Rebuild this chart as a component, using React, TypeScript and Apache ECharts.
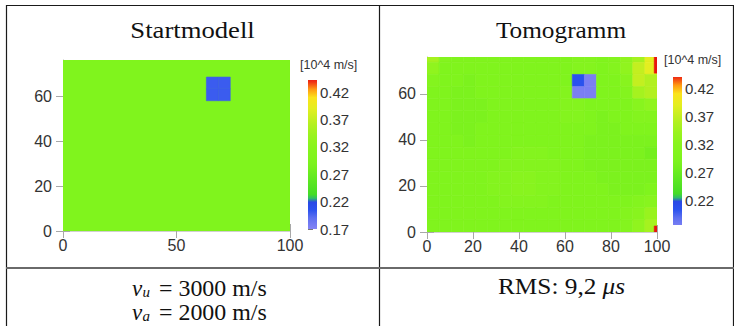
import React, { useEffect, useRef } from 'react';
import * as echarts from 'echarts';

// ---------- data ----------
const xRange = [0, 100];
const yRange = [0, 76];
const nCols = 19;
const cellSize = 100 / nCols;

const startXTicks = [0, 50, 100];
const tomoXTicks = [0, 20, 40, 60, 80, 100];
const yTicks = [0, 20, 40, 60];

// Startmodell: homogeneous background + one slow anomaly (cell indices)
const startBackground = 0.3; // 3000 m/s
const startAnomalyCols = [12, 13];
const startAnomalyRows = [11, 12];
const startAnomalyValue = 0.2; // 2000 m/s

// Tomogramm: cell values [10^4 m/s], top row first (row 14 .. row 0), 19 columns
const tomoRowsTopDown = [
  [0.35, 0.31, 0.30, 0.30, 0.30, 0.30, 0.30, 0.30, 0.30, 0.30, 0.30, 0.30, 0.31, 0.31, 0.30, 0.31, 0.33, 0.35, 0.39],
  [0.33, 0.30, 0.30, 0.30, 0.30, 0.30, 0.30, 0.30, 0.30, 0.30, 0.30, 0.30, 0.31, 0.31, 0.30, 0.31, 0.33, 0.37, 0.39],
  [0.31, 0.30, 0.30, 0.29, 0.30, 0.30, 0.30, 0.30, 0.30, 0.30, 0.30, 0.30, 0.205, 0.175, 0.30, 0.30, 0.32, 0.37, 0.36],
  [0.30, 0.30, 0.29, 0.29, 0.30, 0.30, 0.30, 0.30, 0.30, 0.30, 0.30, 0.31, 0.175, 0.175, 0.30, 0.30, 0.31, 0.35, 0.36],
  [0.30, 0.30, 0.29, 0.29, 0.29, 0.30, 0.30, 0.30, 0.30, 0.30, 0.30, 0.31, 0.31, 0.30, 0.30, 0.30, 0.30, 0.32, 0.33],
  [0.30, 0.30, 0.29, 0.29, 0.29, 0.30, 0.30, 0.30, 0.30, 0.30, 0.30, 0.31, 0.31, 0.30, 0.29, 0.30, 0.30, 0.31, 0.31],
  [0.30, 0.30, 0.29, 0.29, 0.30, 0.30, 0.30, 0.30, 0.30, 0.30, 0.30, 0.30, 0.30, 0.30, 0.29, 0.29, 0.30, 0.30, 0.30],
  [0.30, 0.30, 0.30, 0.29, 0.30, 0.30, 0.30, 0.30, 0.30, 0.30, 0.30, 0.30, 0.30, 0.29, 0.29, 0.29, 0.29, 0.29, 0.29],
  [0.30, 0.30, 0.30, 0.30, 0.30, 0.30, 0.30, 0.31, 0.31, 0.31, 0.30, 0.30, 0.30, 0.29, 0.29, 0.29, 0.29, 0.29, 0.28],
  [0.30, 0.30, 0.30, 0.30, 0.30, 0.30, 0.31, 0.31, 0.31, 0.31, 0.31, 0.30, 0.30, 0.29, 0.29, 0.29, 0.29, 0.29, 0.29],
  [0.30, 0.30, 0.30, 0.30, 0.30, 0.31, 0.31, 0.32, 0.32, 0.31, 0.31, 0.30, 0.30, 0.30, 0.29, 0.29, 0.29, 0.29, 0.29],
  [0.30, 0.30, 0.30, 0.30, 0.30, 0.31, 0.31, 0.32, 0.32, 0.31, 0.31, 0.30, 0.30, 0.30, 0.30, 0.29, 0.29, 0.29, 0.30],
  [0.30, 0.30, 0.30, 0.30, 0.30, 0.30, 0.31, 0.31, 0.31, 0.31, 0.30, 0.30, 0.30, 0.30, 0.30, 0.30, 0.30, 0.31, 0.32],
  [0.30, 0.30, 0.30, 0.30, 0.30, 0.30, 0.30, 0.30, 0.30, 0.30, 0.30, 0.30, 0.30, 0.30, 0.30, 0.30, 0.31, 0.32, 0.34],
  [0.30, 0.30, 0.30, 0.30, 0.30, 0.30, 0.30, 0.30, 0.30, 0.30, 0.30, 0.30, 0.30, 0.30, 0.30, 0.30, 0.31, 0.33, 0.35],
];
// thin high-velocity strips along the right model edge [x0, x1, y0, y1, v]
const tomoEdgeStrips = [
  [98.8, 100, 69, 76, 0.445],
  [98.8, 100, 0, 2.6, 0.445],
];

// colour scale [10^4 m/s]
const cmapStops: [number, string][] = [
  [0.17, '#8484f4'],
  [0.19, '#5e70f0'],
  [0.205, '#2a52ee'],
  [0.219, '#2848e6'],
  [0.226, '#2fbd6a'],
  [0.233, '#44dc26'],
  [0.27, '#68ec20'],
  [0.28, '#74ef1e'],
  [0.29, '#7cf21e'],
  [0.3, '#80f41d'],
  [0.32, '#88f41e'],
  [0.34, '#98f31e'],
  [0.36, '#b2f020'],
  [0.39, '#e4ee20'],
  [0.41, '#fbe31c'],
  [0.425, '#ff9a12'],
  [0.438, '#f03414'],
  [0.445, '#e81410'],
];
const cbLeftRange = [0.17, 0.442];
const cbRightRange = [0.1775, 0.4395];
const cbLeftTicks = [0.17, 0.22, 0.27, 0.32, 0.37, 0.42];
const cbRightTicks = [0.22, 0.27, 0.32, 0.37, 0.42];

// ---------- helpers ----------
function hexToRgb(h: string) {
  const n = parseInt(h.slice(1), 16);
  return [(n >> 16) & 255, (n >> 8) & 255, n & 255];
}
function colorFor(v: number) {
  if (v <= cmapStops[0][0]) return cmapStops[0][1];
  for (let i = 1; i < cmapStops.length; i++) {
    const [v1, c1] = cmapStops[i];
    if (v <= v1) {
      const [v0, c0] = cmapStops[i - 1];
      const t = (v - v0) / (v1 - v0);
      const a = hexToRgb(c0);
      const b = hexToRgb(c1);
      const r = a.map((x, k) => Math.round(x + (b[k] - x) * t));
      return `rgb(${r[0]},${r[1]},${r[2]})`;
    }
  }
  return cmapStops[cmapStops.length - 1][1];
}

function buildStartCells() {
  const cells: number[][] = [[xRange[0], xRange[1], yRange[0], yRange[1], startBackground]];
  startAnomalyCols.forEach((c) =>
    startAnomalyRows.forEach((r) => {
      cells.push([c * cellSize, (c + 1) * cellSize, r * cellSize, (r + 1) * cellSize, startAnomalyValue]);
    })
  );
  return cells;
}
function buildTomoCells() {
  const cells: number[][] = [];
  const nRows = tomoRowsTopDown.length;
  tomoRowsTopDown.forEach((row, i) => {
    const r = nRows - 1 - i;
    row.forEach((v, c) => {
      cells.push([c * cellSize, (c + 1) * cellSize, r * cellSize, (r + 1) * cellSize, v]);
    });
  });
  tomoEdgeStrips.forEach((s) => cells.push(s));
  return cells;
}

const cellRender = (params: any, api: any) => {
  const x0 = api.value(0), x1 = api.value(1), y0 = api.value(2), y1 = api.value(3), v = api.value(4);
  const p0 = api.coord([x0, y1]);
  const p1 = api.coord([x1, y0]);
  const rect = echarts.graphic.clipRectByRect(
    { x: p0[0], y: p0[1], width: p1[0] - p0[0], height: p1[1] - p0[1] },
    params.coordSys
  );
  if (!rect) return null;
  const col = colorFor(v);
  return { type: 'rect', shape: rect, style: { fill: col, stroke: col, lineWidth: 0.6 } };
};

const makeBarRender = (range: number[]) => (params: any, api: any) => {
  const p0 = api.coord([0, range[1]]);
  const p1 = api.coord([1, range[0]]);
  const stops: { offset: number; color: string }[] = [{ offset: 0, color: colorFor(range[1]) }];
  cmapStops
    .filter(([v]) => v > range[0] && v < range[1])
    .slice()
    .reverse()
    .forEach(([v, c]) => stops.push({ offset: (range[1] - v) / (range[1] - range[0]), color: c }));
  stops.push({ offset: 1, color: colorFor(range[0]) });
  return {
    type: 'rect',
    shape: { x: p0[0], y: p0[1], width: p1[0] - p0[0], height: p1[1] - p0[1] },
    style: { fill: new echarts.graphic.LinearGradient(0, 0, 0, 1, stops) },
  };
};

const tickColor = '#a8a8a8';
const labelFont = { fontFamily: 'Liberation Sans, Arial, sans-serif', fontSize: 16, color: '#333' };

function mainX(gridIndex: number, ticks: number[], pos: 'bottom' | 'top') {
  return {
    type: 'value', gridIndex, position: pos, min: xRange[0], max: xRange[1],
    axisLine: { show: true, lineStyle: { color: '#d0d0d0', width: 1 } },
    axisTick: { show: true, length: 7, customValues: ticks, lineStyle: { color: tickColor } },
    axisLabel: { show: pos === 'bottom', customValues: ticks, margin: 6, ...labelFont },
    splitLine: { show: false },
  };
}
function mainY(gridIndex: number, pos: 'left' | 'right') {
  return {
    type: 'value', gridIndex, position: pos, min: yRange[0], max: yRange[1],
    axisLine: { show: true, lineStyle: { color: '#d0d0d0', width: 1 } },
    axisTick: { show: true, length: 7, customValues: yTicks, lineStyle: { color: tickColor } },
    axisLabel: { show: pos === 'left', customValues: yTicks, margin: 11, ...labelFont },
    splitLine: { show: false },
  };
}
function barY(gridIndex: number, range: number[], ticks: number[]) {
  return {
    type: 'value', gridIndex, position: 'right', min: range[0], max: range[1],
    axisLine: { show: false },
    axisTick: { show: true, length: 5, customValues: ticks, lineStyle: { color: '#777' } },
    axisLabel: {
      show: true, customValues: ticks, margin: 3,
      formatter: (v: number) => v.toFixed(2),
      fontFamily: 'Liberation Sans, Arial, sans-serif', fontSize: 15, color: '#333',
    },
    splitLine: { show: false },
  };
}
function barX(gridIndex: number) {
  return { type: 'value', gridIndex, min: 0, max: 1, show: false };
}

const serif = 'Liberation Serif, Times New Roman, serif';
const ink = '#111';

export default function App() {
  const ref = useRef<HTMLDivElement>(null);
  useEffect(() => {
    if (!ref.current) return;
    const chart = echarts.init(ref.current, undefined, { renderer: 'svg' });
    const txt = (text: string, x: number, y: number, extra: any = {}, el: any = {}) => ({
      type: 'text', x, y, ...el,
      style: { text, x: 0, y: 0, fontFamily: serif, fontSize: 23, fill: ink, align: 'left', verticalAlign: 'middle', ...extra },
    });
    const line = (x1: number, y1: number, x2: number, y2: number, stroke = '#1a1a1a', lineWidth = 1.2) => ({
      type: 'line', shape: { x1, y1, x2, y2 }, style: { stroke, lineWidth },
    });
    const leftCx = 192.5;
    const rightCx = 561;
    const mathLine = (y: number, sub: string, rest: string) => {
      const x0 = 132;
      return [
        txt('v', x0, y, { fontStyle: 'italic' }),
        txt(sub, x0 + 10.5, y + 4, { fontStyle: 'italic', fontSize: 15 }),
        txt(rest, x0 + 27, y, {}, { scaleX: 1.04 }),
      ];
    };
    chart.setOption({
      animation: false,
      grid: [
        { left: 63, top: 60, width: 227, height: 171 },
        { left: 427, top: 57, width: 230, height: 175 },
        { left: 308, top: 80, width: 9, height: 149 },
        { left: 673, top: 77, width: 9, height: 148 },
      ],
      xAxis: [
        mainX(0, startXTicks, 'bottom'),
        mainX(0, startXTicks, 'top'),
        mainX(1, tomoXTicks, 'bottom'),
        mainX(1, tomoXTicks, 'top'),
        barX(2),
        barX(3),
      ],
      yAxis: [
        mainY(0, 'left'),
        mainY(0, 'right'),
        mainY(1, 'left'),
        mainY(1, 'right'),
        barY(2, cbLeftRange, cbLeftTicks),
        barY(3, cbRightRange, cbRightTicks),
      ],
      series: [
        { type: 'custom', xAxisIndex: 0, yAxisIndex: 0, data: buildStartCells(), renderItem: cellRender, clip: true, silent: true, encode: { x: [0, 1], y: [2, 3] } },
        { type: 'custom', xAxisIndex: 2, yAxisIndex: 2, data: buildTomoCells(), renderItem: cellRender, clip: true, silent: true, encode: { x: [0, 1], y: [2, 3] } },
        { type: 'custom', xAxisIndex: 4, yAxisIndex: 4, data: [[0, 1, cbLeftRange[0], cbLeftRange[1]]], renderItem: makeBarRender(cbLeftRange), silent: true, encode: { x: [0, 1], y: [2, 3] } },
        { type: 'custom', xAxisIndex: 5, yAxisIndex: 5, data: [[0, 1, cbRightRange[0], cbRightRange[1]]], renderItem: makeBarRender(cbRightRange), silent: true, encode: { x: [0, 1], y: [2, 3] } },
      ],
      graphic: [
        // table rules
        line(6, 5.5, 734, 5.5),
        line(6.5, 5, 6.5, 326),
        line(379.5, 5, 379.5, 326),
        line(733.5, 5, 733.5, 326),
        line(6, 268, 734, 268, '#6a6a6a', 2),
        // titles
        txt('Startmodell', leftCx, 30, { align: 'center' }, { scaleX: 1.16 }),
        txt('Tomogramm', rightCx, 30, { align: 'center' }, { scaleX: 1.1 }),
        // units
        txt('[10^4 m/s]', 300, 65, { fontFamily: 'Liberation Sans, Arial, sans-serif', fontSize: 12.5, fill: '#333' }),
        txt('[10^4 m/s]', 664, 60, { fontFamily: 'Liberation Sans, Arial, sans-serif', fontSize: 12.5, fill: '#333' }),
        // bottom cells
        ...mathLine(288, 'u', '= 3000 m/s'),
        ...mathLine(312, 'a', '= 2000 m/s'),
        txt('RMS: 9,2 ', 498, 285.5, {}, { scaleX: 1.1 }),
        txt('μs', 498 + 95 * 1.1, 285.5, { fontStyle: 'italic' }, { scaleX: 1.1 }),
      ],
    });
    return () => chart.dispose();
  }, []);
  return <div ref={ref} style={{ position: 'absolute', left: 0, top: 0, width: 734, height: 326 }} />;
}
